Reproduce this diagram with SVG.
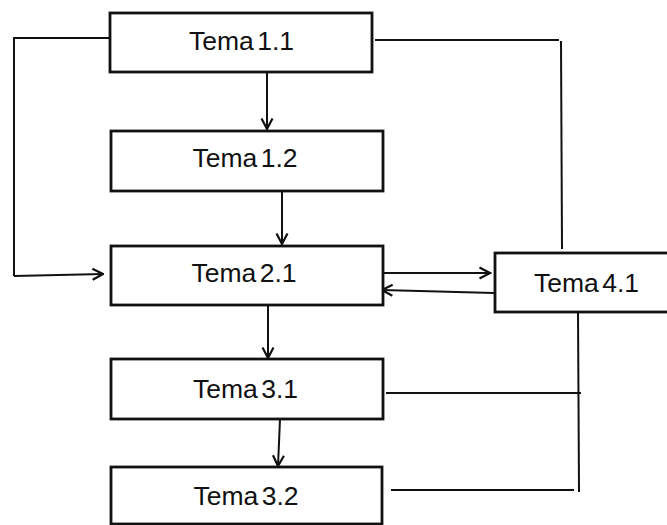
<svg xmlns="http://www.w3.org/2000/svg" width="667" height="525" viewBox="0 0 667 525">
  <style>
    .box { fill: #ffffff; stroke: #111111; stroke-width: 2.8; }
    .lbl { font-family: "Liberation Sans", Arial, sans-serif; font-size: 26.5px; fill: #111111; text-anchor: middle; word-spacing: -4px; }
    .wire { fill: none; stroke: #111111; stroke-width: 2; }
    .arrow { fill: none; stroke: #111111; stroke-width: 2; marker-end: url(#open); }
  </style>
  <defs>
    <marker id="open" viewBox="0 0 14 14" refX="12.5" refY="7" markerWidth="14" markerHeight="14" markerUnits="userSpaceOnUse" orient="auto">
      <path d="M2,1.5 L12.5,7 L2,12.5" fill="none" stroke="#111111" stroke-width="2.2"/>
    </marker>
  </defs>
  <rect width="667" height="525" fill="#ffffff"/>

  <g id="connectors">
    <!-- 1.1 left loop into 2.1 -->
    <polyline class="wire" points="110,38 14,38 14,276"/>
    <line class="arrow" x1="14" y1="276" x2="103" y2="274"/>
    <!-- vertical chain -->
    <line class="arrow" x1="267" y1="72" x2="267" y2="129"/>
    <line class="arrow" x1="282" y1="191" x2="282" y2="244"/>
    <line class="arrow" x1="268" y1="305" x2="268" y2="358"/>
    <line class="arrow" x1="280" y1="419" x2="278" y2="466"/>
    <!-- 1.1 to 4.1 -->
    <line class="wire" x1="375" y1="40" x2="559" y2="40"/>
    <line class="wire" x1="561" y1="41" x2="562" y2="249"/>
    <!-- 2.1 <-> 4.1 -->
    <line class="arrow" x1="384" y1="273" x2="490" y2="273"/>
    <line class="arrow" x1="494" y1="293" x2="382" y2="290"/>
    <!-- 4.1 down to 3.1 and 3.2 -->
    <line class="wire" x1="578" y1="312" x2="579" y2="492"/>
    <line class="wire" x1="386" y1="393" x2="581" y2="393"/>
    <line class="wire" x1="391" y1="490" x2="574" y2="490"/>
  </g>

  <g id="tema-1-1">
    <rect class="box" x="110" y="13" width="262" height="59"/>
    <text class="lbl" x="241.5" y="50">Tema 1.1</text>
  </g>
  <g id="tema-1-2">
    <rect class="box" x="111" y="131" width="272" height="60"/>
    <text class="lbl" x="245" y="167">Tema 1.2</text>
  </g>
  <g id="tema-2-1">
    <rect class="box" x="111" y="246" width="272" height="59"/>
    <text class="lbl" x="244" y="282">Tema 2.1</text>
  </g>
  <g id="tema-4-1">
    <rect class="box" x="495" y="253" width="180" height="59"/>
    <text class="lbl" x="586.5" y="292">Tema 4.1</text>
  </g>
  <g id="tema-3-1">
    <rect class="box" x="111" y="359" width="272" height="60"/>
    <text class="lbl" x="245.5" y="398">Tema 3.1</text>
  </g>
  <g id="tema-3-2">
    <rect class="box" x="111" y="467" width="271" height="57"/>
    <text class="lbl" x="246" y="505">Tema 3.2</text>
  </g>
</svg>
